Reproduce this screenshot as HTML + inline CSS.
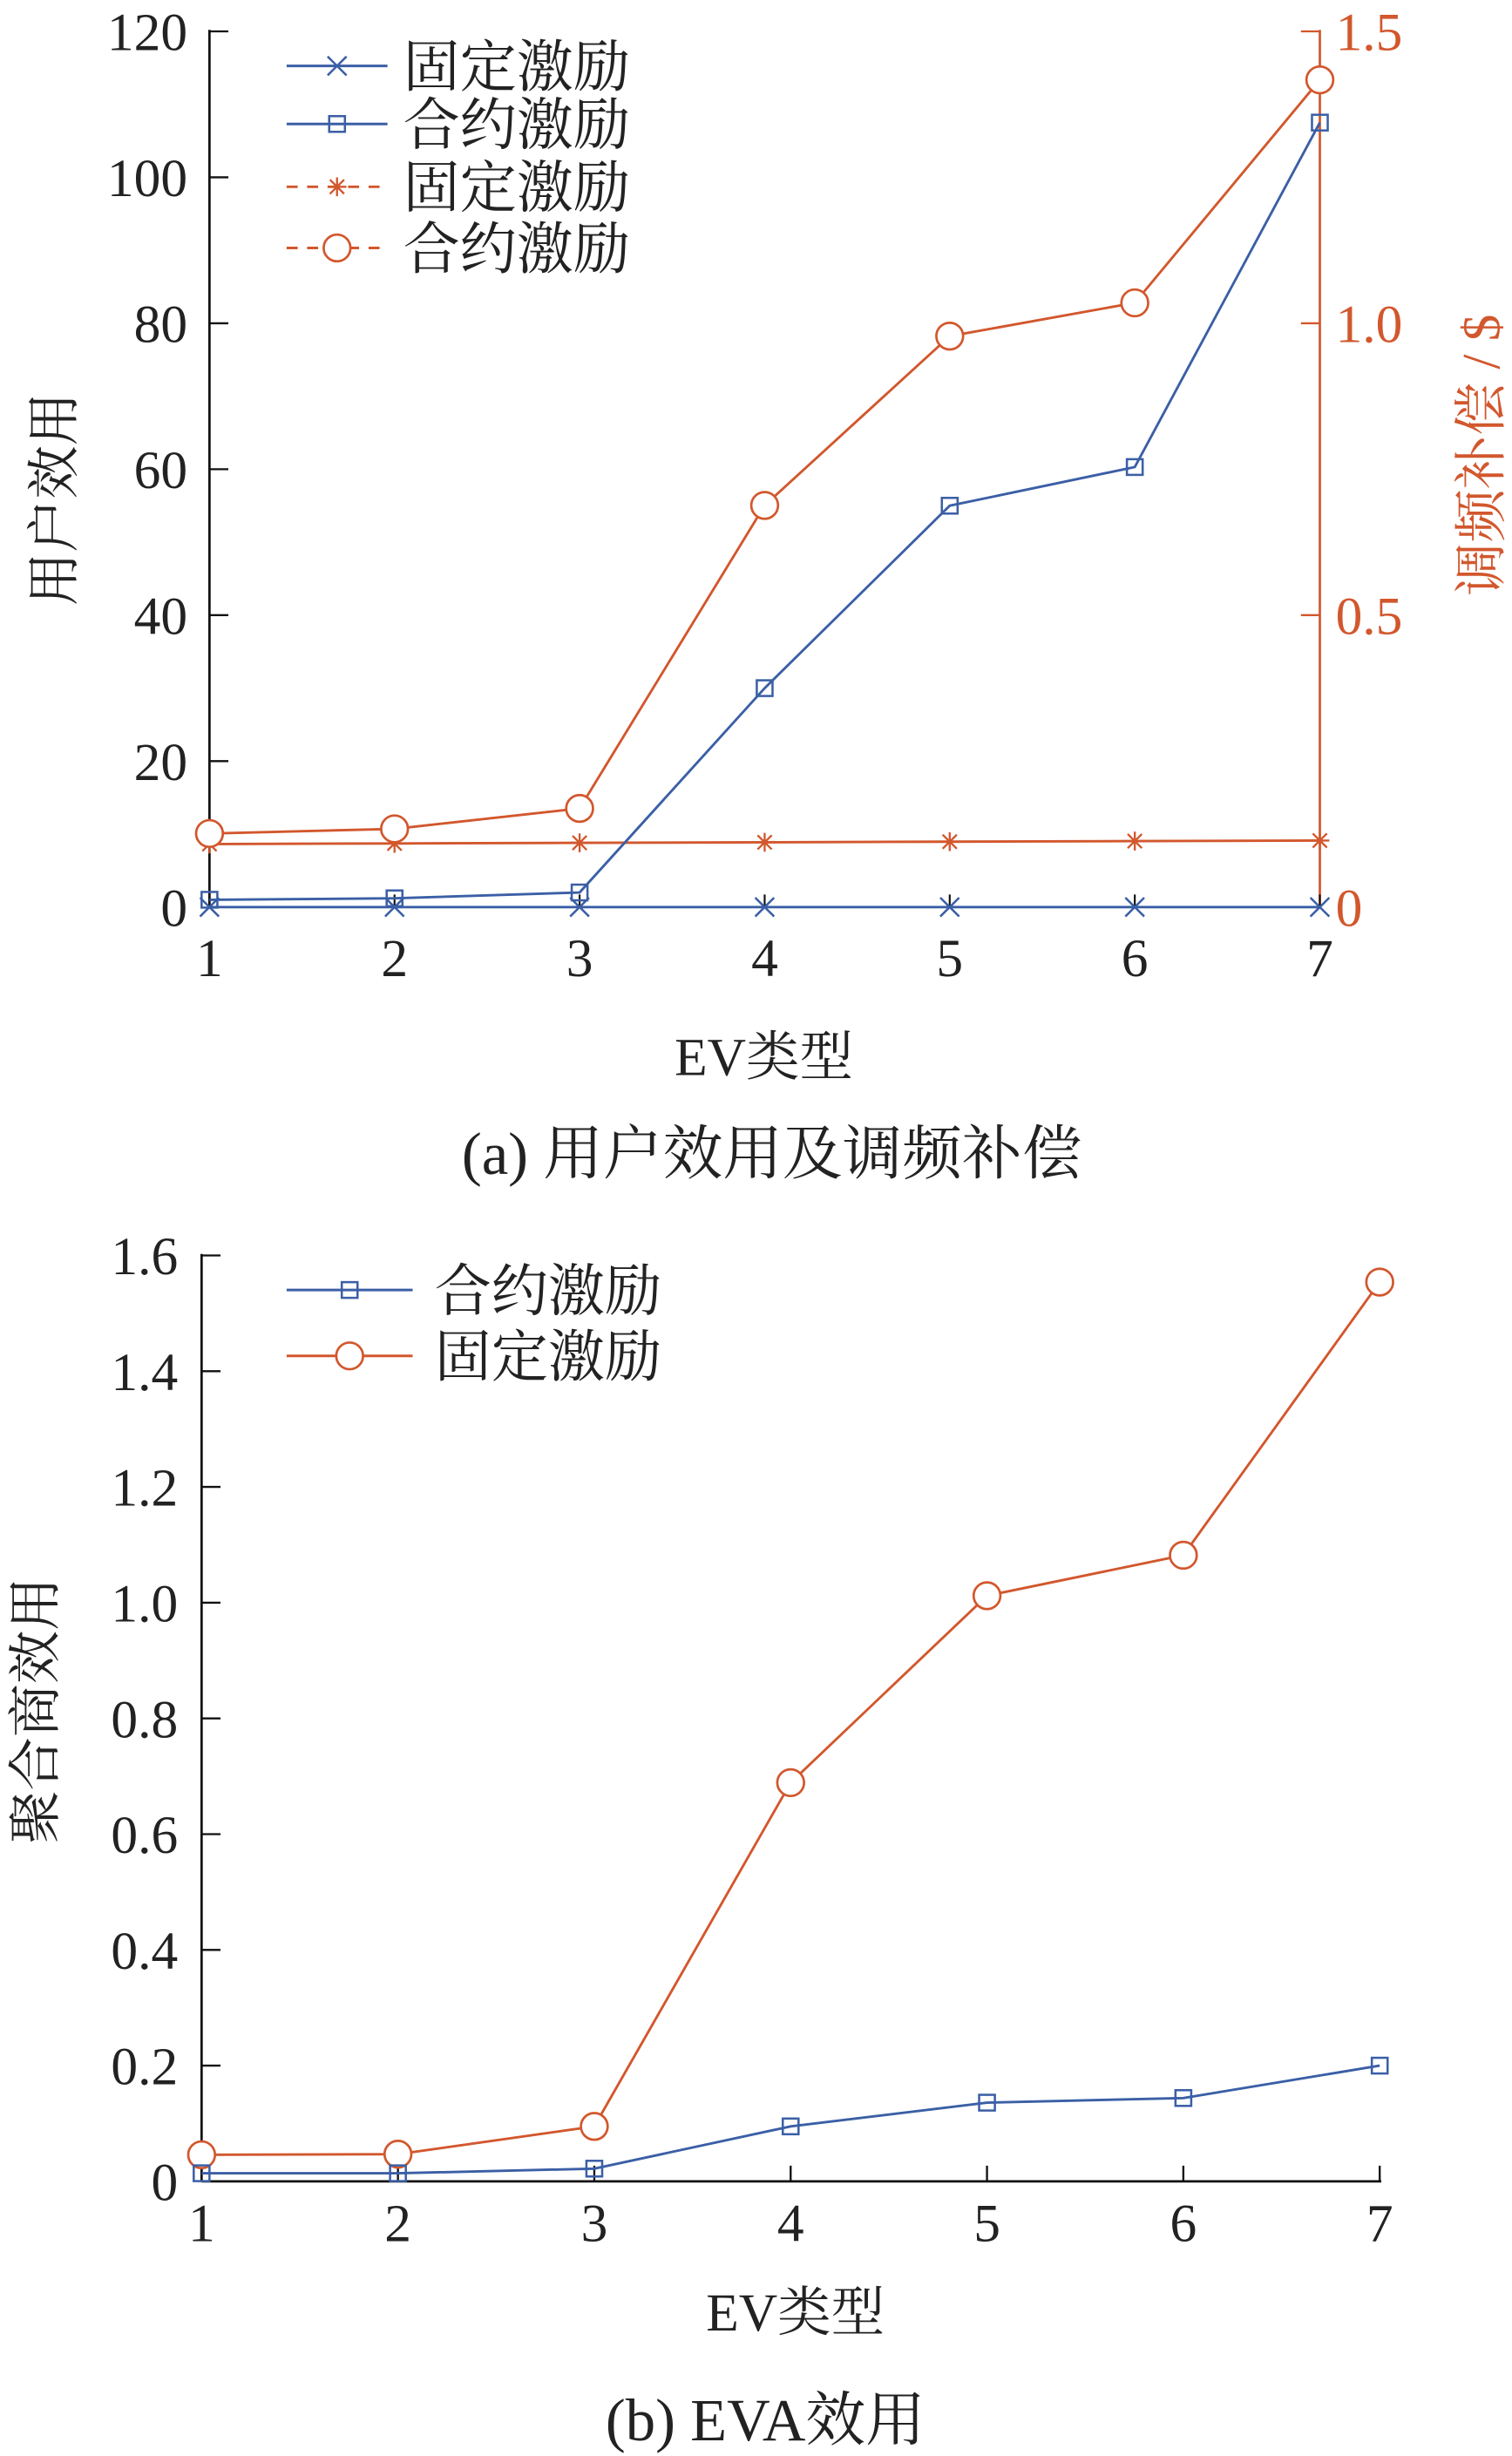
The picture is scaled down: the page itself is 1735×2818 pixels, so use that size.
<!DOCTYPE html>
<html><head><meta charset="utf-8"><style>
html,body{margin:0;padding:0;background:#fff;}
svg{display:block;}
text{font-family:"Liberation Serif","Noto Serif CJK SC",serif;}
</style></head><body>
<svg id="fig" width="1735" height="2818" viewBox="0 0 960 1565" preserveAspectRatio="none" xmlns="http://www.w3.org/2000/svg">
<g id="ga"></g>
<g id="gb"></g>
</svg>
<script>
const cats=[1,2,3,4,5,6,7];
const aFixedUser=[0,0,0,0,0,0,0];
const aContractUser=[1,1.2,2,30,55,60.3,107.5];
const aFixedComp=[0.108,0.109,0.11,0.111,0.112,0.113,0.114];
const aContractComp=[0.126,0.134,0.169,0.688,0.978,1.035,1.417];
const aLeftTicks=[0,20,40,60,80,100,120];
const aRightTicks=["0","0.5","1.0","1.5"];
const bContract=[0.014,0.014,0.022,0.095,0.136,0.144,0.2];
const bFixed=[0.046,0.047,0.095,0.689,1.012,1.082,1.554];
const bTicks=["0","0.2","0.4","0.6","0.8","1.0","1.2","1.4","1.6"];
const BLUE="#3b5fa6",ORANGE="#d2572d",NS="http://www.w3.org/2000/svg";
function mk(p,tag,at,txt){const e=document.createElementNS(NS,tag);for(const k in at)e.setAttribute(k,at[k]);if(txt!==undefined)e.textContent=txt;p.appendChild(e);return e;}
function marker(p,type,x,y,c){
 if(type==='x'){const g=mk(p,'path',{d:`M${x-6} ${y-6}L${x+6} ${y+6}M${x-6} ${y+6}L${x+6} ${y-6}`,stroke:c,'stroke-width':1.4,fill:'none'});}
 else if(type==='sq'){const g=mk(p,'rect',{x:x-5,y:y-5,width:10,height:10,stroke:c,'stroke-width':1.4,fill:'none'});}
 else if(type==='o'){const g=mk(p,'circle',{cx:x,cy:y,r:8.5,stroke:c,'stroke-width':1.5,fill:'#fff'});}
 else if(type==='*'){const g=mk(p,'path',{d:`M${x-6} ${y}L${x+6} ${y}M${x} ${y-6}L${x} ${y+6}M${x-4.5} ${y-4.5}L${x+4.5} ${y+4.5}M${x-4.5} ${y+4.5}L${x+4.5} ${y-4.5}`,stroke:c,'stroke-width':1.3});}
}
function series(p,name,vals,X,Y,c,type,fillCircle){
 const g=mk(p,'g',{});
 const pts=vals.map((v,i)=>X(cats[i])+','+Y(v)).join(' ');
 mk(g,'polyline',{points:pts,fill:'none',stroke:c,'stroke-width':1.6});
 vals.forEach((v,i)=>marker(g,type,X(cats[i]),Y(v),c));
}
// chart a
(function(){
 const p=document.getElementById('ga');
 const X=c=>133+(c-1)*(838-133)/6;
 const YL=v=>578-v*(558/120);
 const YR=v=>578-v*(558/1.5);
 mk(p,'line',{x1:133,y1:19,x2:133,y2:578,stroke:'#111','stroke-width':1.5});
 aLeftTicks.forEach(t=>{mk(p,'line',{x1:133,y1:YL(t),x2:145,y2:YL(t),stroke:'#111','stroke-width':1.3});const e=mk(p,'text',{x:119,y:YL(t)+12,'text-anchor':'end','font-size':34,fill:'#222'},String(t));});
 mk(p,'line',{x1:838,y1:19,x2:838,y2:578,stroke:ORANGE,'stroke-width':1.5});
 aRightTicks.forEach(t=>{const y=YR(parseFloat(t));mk(p,'line',{x1:826,y1:y,x2:838,y2:y,stroke:ORANGE,'stroke-width':1.3});const e=mk(p,'text',{x:848,y:y+12,'font-size':34,fill:ORANGE},t);});
 cats.forEach(c=>{mk(p,'line',{x1:X(c),y1:578,x2:X(c),y2:570,stroke:'#111','stroke-width':1.2});const e=mk(p,'text',{x:X(c),y:622,'text-anchor':'middle','font-size':34,fill:'#222'},String(c));});
 series(p,'series-fixed-compensation',aFixedComp,X,YR,ORANGE,'*');
 series(p,'series-contract-compensation',aContractComp,X,YR,ORANGE,'o');
 series(p,'series-fixed-user-utility',aFixedUser,X,YL,BLUE,'x');
 series(p,'series-contract-user-utility',aContractUser,X,YL,BLUE,'sq');
 let e=mk(p,'text',{transform:'translate(46,318) rotate(-90)','text-anchor':'middle','font-size':34,fill:'#222'},'用户效用');
 e=mk(p,'text',{transform:'translate(952,290) rotate(-90)','text-anchor':'middle','font-size':34,fill:ORANGE},'调频补偿 / $');
 e=mk(p,'text',{x:485,y:685,'text-anchor':'middle','font-size':34,fill:'#222'},'EV类型');
 e=mk(p,'text',{x:490,y:748,'text-anchor':'middle','font-size':38,fill:'#222'},'(a)  用户效用及调频补偿');
 const leg=[['固定激励',BLUE,'x',false],['合约激励',BLUE,'sq',false],['固定激励',ORANGE,'*',true],['合约激励',ORANGE,'o',true]];
 const ys=[42,79,119,158];
 leg.forEach((l,i)=>{const g=mk(p,'g',{});
  mk(g,'line',{x1:182,y1:ys[i],x2:246,y2:ys[i],stroke:l[1],'stroke-width':1.6,'stroke-dasharray':l[3]?'7 6':'none'});
  marker(g,l[2],214,ys[i],l[1]);
  mk(g,'text',{x:256,y:ys[i]+13,'font-size':36,fill:'#222'},l[0]);});
})();
// chart b
(function(){
 const p=document.getElementById('gb');
 const X=c=>128+(c-1)*(876-128)/6;
 const Y=v=>1390-v*(590/1.6);
 mk(p,'line',{x1:128,y1:799,x2:128,y2:1390,stroke:'#111','stroke-width':1.5});
 mk(p,'line',{x1:128,y1:1390,x2:877,y2:1390,stroke:'#111','stroke-width':1.5});
 bTicks.forEach(t=>{const y=Y(parseFloat(t));mk(p,'line',{x1:128,y1:y,x2:140,y2:y,stroke:'#111','stroke-width':1.3});const e=mk(p,'text',{x:113,y:y+12,'text-anchor':'end','font-size':34,fill:'#222'},t);});
 cats.forEach(c=>{mk(p,'line',{x1:X(c),y1:1390,x2:X(c),y2:1380,stroke:'#111','stroke-width':1.3});const e=mk(p,'text',{x:X(c),y:1428,'text-anchor':'middle','font-size':34,fill:'#222'},String(c));});
 series(p,'series-fixed',bFixed,X,Y,ORANGE,'o');
 series(p,'series-contract',bContract,X,Y,BLUE,'sq');
 let e=mk(p,'text',{transform:'translate(34,1090) rotate(-90)','text-anchor':'middle','font-size':34,fill:'#222'},'聚合商效用');
 e=mk(p,'text',{x:505,y:1485,'text-anchor':'middle','font-size':34,fill:'#222'},'EV类型');
 e=mk(p,'text',{x:486,y:1555,'text-anchor':'middle','font-size':38,fill:'#222'},'(b)  EVA效用');
 const leg=[['合约激励',BLUE,'sq'],['固定激励',ORANGE,'o']];const ys=[822,864];
 leg.forEach((l,i)=>{const g=mk(p,'g',{});
  mk(g,'line',{x1:182,y1:ys[i],x2:262,y2:ys[i],stroke:l[1],'stroke-width':1.6});
  marker(g,l[2],222,ys[i],l[1]);
  mk(g,'text',{x:276,y:ys[i]+13,'font-size':36,fill:'#222'},l[0]);});
})();
</script>
</body></html>
